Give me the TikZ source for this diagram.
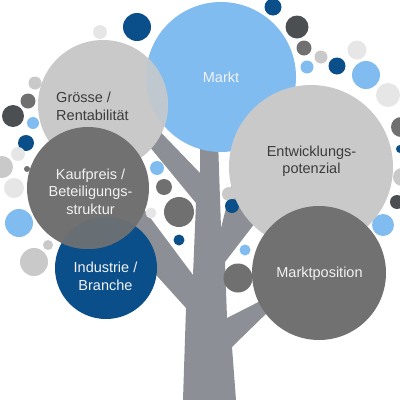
\documentclass[tikz,border=0pt]{standalone}
\usepackage{fontspec}
\setmainfont{Liberation Sans}
\definecolor{mblue}{RGB}{128,188,240}
\definecolor{lgrey}{RGB}{201,201,201}
\definecolor{dgrey}{RGB}{113,113,113}
\definecolor{navy}{RGB}{11,79,138}
\definecolor{treecol}{RGB}{140,143,149}
\definecolor{vdark}{RGB}{75,79,82}
\definecolor{vlight}{RGB}{230,230,230}
\definecolor{mgrey}{RGB}{112,112,112}
\definecolor{txtdark}{RGB}{60,60,60}
\definecolor{txtlight}{RGB}{242,242,242}
\begin{document}
\begin{tikzpicture}[x=1pt,y=-1pt,
  lbl/.style={inner sep=0pt, font=\fontsize{14.5}{17.5}\selectfont}]
\path[use as bounding box] (0,0) rectangle (400,400);
\clip (0,0) rectangle (400,400);
% tree
\fill[treecol] (183,400) -- (186,308) -- (120,235) -- (125,184) -- (193,275)
  -- (196,203) -- (140,135) -- (145,116) -- (200,173) -- (200,140)
  -- (218,140) -- (221,228) -- (243,140) -- (275,197) -- (225,262)
  -- (227,318) -- (282,290) -- (272,308) -- (232,347) -- (236,400) -- cycle;
% bubbles
\foreach \x/\y/\r/\c in {
 137/27/14/navy, 100/32/7/vlight, 35/83/6.5/lgrey, 28/101/7.5/mgrey,
 13/116/11/vdark, 33/123/6/mblue, 26/143/8/navy, 18/154/7/vlight,
 2/167/11/lgrey, 27/169/3/mgrey, 14/188/10/vlight, 19/223/14/mblue,
 48/245/5/lgrey, 34/262/14/lgrey, 151/213/5.5/vlight, 179/212/15/mgrey,
 164/187/8/mgrey, 157/168/7/mblue, 179/240/5.5/navy, 229/194/7/lgrey,
 232/206/7/navy, 245/250/5.5/mblue, 238/278/14.5/mgrey, 273/7/8.5/navy,
 297/27/11.5/vdark, 304/48/7.5/mgrey, 321/57/6.5/lgrey, 307/67/6.5/mblue,
 337/66/8.5/navy, 357/50/9.5/vlight, 366/75/14/mblue, 388/95/12/vlight,
 401/127/10/mgrey, 400/149/4/navy, 402/177/9/lgrey, 397/202/7/vdark,
 383/225/11/mblue}
 \fill[\c] (\x,\y) circle[radius=\r pt];
% main circles
\fill[mblue] (221,77) circle[radius=75pt];
\fill[lgrey] (103,105) circle[radius=65pt];
\begin{scope}
 \clip (103,105) circle[radius=65pt];
 \fill[lgrey!86!mblue] (221,77) circle[radius=75pt];
\end{scope}
\fill[lgrey] (311,167) circle[radius=82pt];
\fill[dgrey] (319,273) circle[radius=67pt];
\fill[navy] (106,268) circle[radius=51pt];
\fill[dgrey] (88,188) circle[radius=61pt];
\begin{scope}
 \clip (88,188) circle[radius=61pt];
 \fill[dgrey!90!navy] (106,268) circle[radius=51pt];
\end{scope}
% labels
\node[lbl, text=txtlight] (markt) at (221,77) {Markt};
\node[lbl, text=txtdark, align=left] (groesse) at (92.5,106.5) {Grösse /\\Rentabilität};
\node[lbl, text=txtdark, align=center] (entw) at (311.5,161) {Entwicklungs-\\potenzial};
\node[lbl, text=txtlight] (mpos) at (319.5,274) {Marktposition};
\node[lbl, text=txtlight, align=center] (ind) at (105.5,276.5) {Industrie /\\Branche};
\node[lbl, text=txtlight, align=center] (kauf) at (90.5,191.5) {Kaufpreis /\\Beteiligungs-\\struktur};
\end{tikzpicture}
\end{document}
